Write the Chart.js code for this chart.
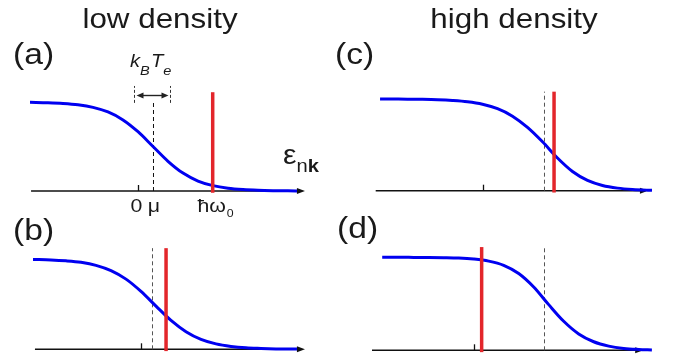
<!DOCTYPE html>
<html>
<head>
<meta charset="utf-8">
<script src="https://cdn.jsdelivr.net/npm/chart.js@4.4.0/dist/chart.umd.min.js"></script>
<style>
  html, body { margin: 0; padding: 0; background: #fff; }
  #wrap { position: relative; width: 675px; height: 358px; overflow: hidden;
          font-family: "Liberation Sans", Arial, sans-serif; color: #1a1a1a; }
  #wrap canvas { position: absolute; left: 0; top: 0; }
  .t { position: absolute; line-height: 1; white-space: nowrap; transform-origin: 0 0; transform: scaleX(1.12); }
  .head { font-size: 28px; transform-origin: 50% 0; transform: translateX(-50%) scaleX(1.12); }
  .lab { font-size: 30px; }
  .kt { font-size: 18px; font-style: italic; }
  .kt sub { font-size: 13px; vertical-align: -8px; line-height: 0; margin-right: 1px; }
  .eps { font-size: 27px; }
  .eps sub { font-size: 18px; vertical-align: -8px; line-height: 0; }
</style>
</head>
<body>
<div id="wrap">
  <canvas id="pa" width="675" height="358"></canvas>
  <canvas id="pb" width="675" height="358"></canvas>
  <canvas id="pc" width="675" height="358"></canvas>
  <canvas id="pd" width="675" height="358"></canvas>

  <div class="t head" style="left:160px; top:5px;">low density</div>
  <div class="t head" style="left:514px; top:5px;">high density</div>
  <div class="t lab" style="left:13px; top:39px;">(a)</div>
  <div class="t lab" style="left:13px; top:215px;">(b)</div>
  <div class="t lab" style="left:335px; top:39px;">(c)</div>
  <div class="t lab" style="left:337px; top:213px;">(d)</div>
  <div class="t kt" style="left:130px; top:52px;">k<sub>B</sub>T<sub>e</sub></div>
  <div class="t eps" style="left:283px; top:142px;">ε<sub>n<b>k</b></sub></div>
</div>
<script>
// occupation curves (energy in units of 15 px, occupation 0..1)
const energyA = [-7.2, -6, -5, -4, -3, -2, -1, 0, 1, 2, 3, 4, 5, 6, 7, 8, 9, 10, 10.6];
const occA    = [0.997, 0.992, 0.984, 0.969, 0.94, 0.888, 0.799, 0.666, 0.5, 0.334, 0.201, 0.112, 0.06, 0.031, 0.016, 0.008, 0.004, 0.002, 0.001];
const energyB = [-7.2, -6, -5, -4, -3, -2, -1, 0, 1, 2, 3, 4, 5, 6, 7, 8, 9, 10, 10.4];
const occB    = [0.995, 0.99, 0.98, 0.963, 0.93, 0.871, 0.777, 0.641, 0.478, 0.32, 0.195, 0.11, 0.06, 0.032, 0.016, 0.009, 0.004, 0.002, 0.002];
const energyC = [-6.83, -6, -5, -4, -3, -2, -1, 0, 1, 2, 3, 4, 5, 6, 7, 8, 9, 10, 11, 11.3];
const occC    = [1.0, 0.999, 0.998, 0.996, 0.992, 0.984, 0.97, 0.943, 0.894, 0.813, 0.69, 0.533, 0.356, 0.209, 0.112, 0.057, 0.028, 0.013, 0.006, 0.005];
const energyD = [-6.1, -5, -4, -3, -2, -1, 0, 1, 2, 3, 4, 5, 6, 7, 8, 9, 10, 11, 11.88];
const occD    = [1.0, 1.0, 0.999, 0.998, 0.996, 0.992, 0.981, 0.959, 0.914, 0.826, 0.681, 0.491, 0.312, 0.176, 0.092, 0.045, 0.02, 0.009, 0.004];

const curveEnergy = [energyA, energyB, energyC, energyD];
const curveOcc = [occA, occB, occC, occD];

// markers per panel (a, b, c, d)
const chemPot      = [1.033, 0.767, 4.133, 4.72];
const chemPotTop   = [1.0, 1.12, 1.08, 1.11];
const photonEnergy = [4.98, 1.67, 4.77, 0.53];
const photonTop    = [1.11, 1.12, 1.08, 1.11];
const axisFrom     = [-7.13, -7.07, -7.12, -6.78];
const axisTo       = [11.13, 10.93, 11.03, 11.3];

// thermal width marker in panel (a)
const kTMarks = [-0.233, 2.167];
const kTMarkSpan = [0.99, 1.18];
const kTArrowLevel = 1.08;

const tickLabels = ['0', 'μ', 'ħω', '0'];

// where each panel sits on the page: pixel of E=0, of f=0 and of f=1
const frames = [
  { zero: 138,   base: 191,   top: 102 },
  { zero: 141,   base: 349.3, top: 259 },
  { zero: 482.5, base: 190.7, top: 99 },
  { zero: 473.7, base: 350.3, top: 257.3 }
];
const PX_PER_E = 15, X_MIN = -7.6, X_MAX = 12.4, Y_MIN = -0.05, Y_MAX = 1.3;
const W = 675, H = 358;

function stretchText(ctx, txt, x, y, align) {
  ctx.save();
  ctx.translate(x, y);
  ctx.scale(1.12, 1);
  ctx.textAlign = align || 'center';
  ctx.fillText(txt, 0, 0);
  ctx.restore();
}

const schematic = {
  id: 'schematic',
  beforeDatasetsDraw(chart, args, opts) {
    const i = opts.panel, ctx = chart.ctx;
    const xs = chart.scales.x, ys = chart.scales.y;
    const y0 = ys.getPixelForValue(0);
    const x1 = xs.getPixelForValue(axisFrom[i]), x2 = xs.getPixelForValue(axisTo[i]);
    ctx.save();
    ctx.strokeStyle = '#111'; ctx.fillStyle = '#111'; ctx.lineWidth = 1.5;
    ctx.beginPath(); ctx.moveTo(x1, y0); ctx.lineTo(x2 - 5, y0); ctx.stroke();
    ctx.beginPath(); ctx.moveTo(x2, y0); ctx.lineTo(x2 - 8, y0 - 3); ctx.lineTo(x2 - 8, y0 + 3);
    ctx.closePath(); ctx.fill();
    const xt = Math.round(xs.getPixelForValue(0)) + 0.5;
    ctx.lineWidth = 1.3;
    ctx.beginPath(); ctx.moveTo(xt, y0); ctx.lineTo(xt, y0 - 6); ctx.stroke();
    ctx.restore();
  },
  afterDatasetsDraw(chart, args, opts) {
    if (opts.panel !== 0) return;
    const ctx = chart.ctx, xs = chart.scales.x, ys = chart.scales.y;
    const y0 = ys.getPixelForValue(0);
    ctx.save();
    ctx.fillStyle = '#1a1a1a';
    ctx.font = '19px "Liberation Sans", Arial, sans-serif';
    stretchText(ctx, tickLabels[0], xs.getPixelForValue(0) - 1.5, y0 + 21);
    stretchText(ctx, tickLabels[1], xs.getPixelForValue(chemPot[0]) + 0.5, y0 + 21);
    const xh = xs.getPixelForValue(photonEnergy[0]);
    stretchText(ctx, tickLabels[2], xh - 1, y0 + 21);
    ctx.font = '11px "Liberation Sans", Arial, sans-serif';
    stretchText(ctx, tickLabels[3], xh + 14, y0 + 26, 'left');

    // double-headed arrow for k_B T_e
    const ya = Math.round(ys.getPixelForValue(kTArrowLevel)) + 0.5;
    const xl = xs.getPixelForValue(kTMarks[0]) + 2, xr = xs.getPixelForValue(kTMarks[1]) - 2;
    ctx.strokeStyle = '#222'; ctx.fillStyle = '#222'; ctx.lineWidth = 1.4;
    ctx.beginPath(); ctx.moveTo(xl + 4, ya); ctx.lineTo(xr - 4, ya); ctx.stroke();
    ctx.beginPath(); ctx.moveTo(xl, ya); ctx.lineTo(xl + 7, ya - 3); ctx.lineTo(xl + 7, ya + 3); ctx.closePath(); ctx.fill();
    ctx.beginPath(); ctx.moveTo(xr, ya); ctx.lineTo(xr - 7, ya - 3); ctx.lineTo(xr - 7, ya + 3); ctx.closePath(); ctx.fill();
    ctx.restore();
  }
};

function vline(x, y1, y2, color, width, dash, order) {
  return {
    data: [{ x: x, y: y1 }, { x: x, y: y2 }],
    borderColor: color, borderWidth: width, borderDash: dash || [],
    borderCapStyle: 'butt', pointRadius: 0, order: order, clip: false
  };
}

['pa', 'pb', 'pc', 'pd'].forEach(function (id, i) {
  const f = frames[i];
  const unitY = f.base - f.top;
  const datasets = [
    vline(photonEnergy[i], -0.02, photonTop[i], '#e3262b', 3.5, null, 0),
    {
      data: curveEnergy[i].map(function (e, k) { return { x: e, y: curveOcc[i][k] }; }),
      borderColor: '#0000f0', borderWidth: 3, pointRadius: 0,
      cubicInterpolationMode: 'monotone', order: 1, clip: false
    },
    vline(chemPot[i], 0, chemPotTop[i], i === 0 ? '#111' : '#555', 1, [4, 3], 2)
  ];
  if (i === 0) {
    datasets.push(vline(kTMarks[0], kTMarkSpan[0], kTMarkSpan[1], '#333', 1, [3, 2], 3));
    datasets.push(vline(kTMarks[1], kTMarkSpan[0], kTMarkSpan[1], '#333', 1, [3, 2], 3));
  }
  new Chart(document.getElementById(id), {
    type: 'line',
    data: { datasets: datasets },
    plugins: [schematic],
    options: {
      responsive: false,
      animation: false,
      events: [],
      layout: {
        padding: {
          left: f.zero + X_MIN * PX_PER_E,
          right: W - (f.zero + X_MAX * PX_PER_E),
          top: f.base - Y_MAX * unitY,
          bottom: H - (f.base - Y_MIN * unitY)
        }
      },
      scales: {
        x: { type: 'linear', min: X_MIN, max: X_MAX, display: false },
        y: { type: 'linear', min: Y_MIN, max: Y_MAX, display: false }
      },
      plugins: {
        legend: { display: false },
        tooltip: { enabled: false },
        schematic: { panel: i }
      }
    }
  });
});
</script>
</body>
</html>
